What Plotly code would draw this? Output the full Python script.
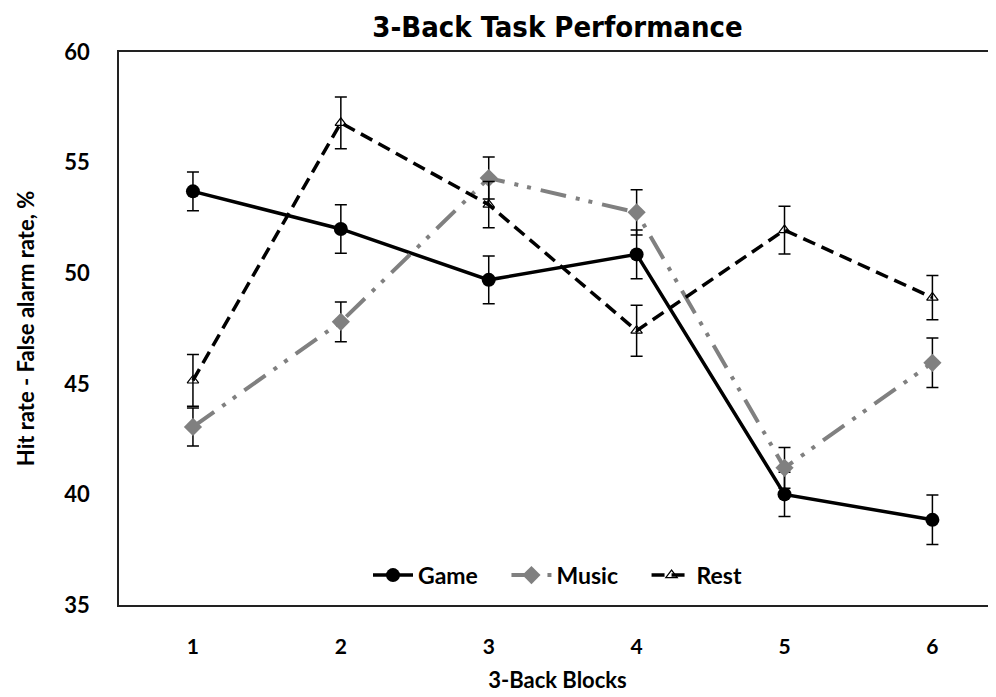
import plotly.graph_objects as go

blocks = [1, 2, 3, 4, 5, 6]
tick_labels = ["1", "2", "3", "4", "5", "6"]

game = [53.7, 52.0, 49.7, 50.85, 40.0, 38.85]
game_err = [0.88, 1.1, 1.08, 1.1, 1.0, 1.12]

music = [43.05, 47.8, 54.3, 52.75, 41.2, 45.95]
music_err = [0.86, 0.9, 0.95, 1.02, 0.92, 1.12]

rest = [45.15, 56.8, 53.1, 47.4, 51.95, 48.9]
rest_err = [1.17, 1.17, 1.04, 1.15, 1.08, 1.0]

FONT = "Lato"
PAD = "\u00a0" * 4

fig = go.Figure()

fig.add_trace(go.Scatter(
    x=blocks, y=game, name="<b>Game</b>" + PAD, mode="lines+markers",
    line=dict(color="black", width=3.5),
    marker=dict(symbol="circle", size=14, color="black"),
    error_y=dict(type="data", array=game_err, color="black", thickness=1.5, width=6),
))

fig.add_trace(go.Scatter(
    x=blocks, y=music, name="<b>Music</b>" + PAD, mode="lines+markers",
    line=dict(color="#808080", width=4, dash="26px,10px,4px,9px,4px,10px"),
    marker=dict(symbol="diamond", size=14, color="#808080"),
    error_y=dict(type="data", array=music_err, color="black", thickness=1.5, width=6),
))

fig.add_trace(go.Scatter(
    x=blocks, y=rest, name="<b>Rest</b>", mode="lines+markers",
    line=dict(color="black", width=3.5, dash="13px,7px"),
    marker=dict(symbol="triangle-up-open", size=10, color="black", line=dict(width=1.2, color="black")),
    error_y=dict(type="data", array=rest_err, color="black", thickness=1.5, width=6),
))

fig.update_layout(
    width=988, height=689,
    paper_bgcolor="white", plot_bgcolor="white",
    margin=dict(l=111, r=0, t=44, b=92),
    title=dict(text="<b>3-Back Task Performance</b>", x=0.5, xref="paper", xanchor="center",
               y=1 - 19 / 689, yref="container", yanchor="middle",
               font=dict(family="DejaVu Sans Condensed", size=29, color="black")),
    showlegend=True,
    legend=dict(orientation="h", x=0.5, xanchor="center", y=0.054, yanchor="middle",
                bgcolor="rgba(0,0,0,0)", font=dict(family=FONT, size=23, color="black"),
                itemwidth=40, tracegroupgap=0),
    font=dict(family=FONT, color="black"),
)

fig.update_xaxes(
    range=[0.5, 6.43], tickvals=blocks, ticktext=["<b>%s</b>" % t for t in tick_labels],
    tickfont=dict(family=FONT, size=21, color="black"), ticks="", showgrid=False, zeroline=False,
    showline=True, linecolor="#222", linewidth=1.5, mirror=True, ticklabelstandoff=22,
    title=dict(text="<b>3-Back Blocks</b>", font=dict(family=FONT, size=22, color="black"), standoff=16),
)

fig.update_yaxes(
    range=[35, 60], tickvals=[35, 40, 45, 50, 55, 60],
    ticktext=["<b>%d</b>" % v for v in [35, 40, 45, 50, 55, 60]],
    tickfont=dict(family=FONT, size=22, color="black"), ticks="", showgrid=False, zeroline=False,
    showline=True, linecolor="#222", linewidth=1.5, mirror=False, ticklabelstandoff=23,
    title=dict(text="<b>Hit rate - False alarm rate, %</b>", font=dict(family=FONT, size=22, color="black"), standoff=24),
)

fig.write_html("out.html")
